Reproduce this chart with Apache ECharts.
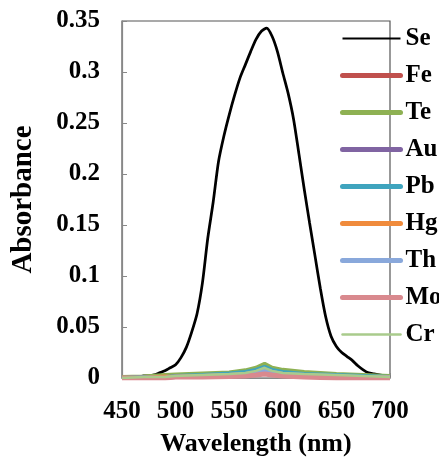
<!DOCTYPE html>
<html>
<head>
<meta charset="utf-8">
<script src="https://cdn.jsdelivr.net/npm/echarts@6/dist/echarts.min.js"></script>
<style>
  html, body { margin: 0; padding: 0; background: #fff; }
  #chart { width: 439px; height: 458px; }
</style>
</head>
<body>
<div id="chart"></div>
<script>
// Absorption spectra of the Se complex and the other ions tested
const seWavelength = [450, 455, 460, 465, 470, 475, 480, 485, 490, 495,
  500, 505, 510, 515, 520, 525, 530, 535, 540, 545,
  550, 555, 560, 565, 570, 575, 580, 585, 590, 595,
  600, 605, 610, 615, 620, 625, 630, 635, 640, 645,
  650, 655, 660, 665, 670, 675, 680, 685, 690, 695, 700];
const seAbs = [0.000, 0.000, 0.001, 0.001, 0.002, 0.002, 0.003, 0.005, 0.007, 0.010,
  0.013, 0.020, 0.030, 0.045, 0.063, 0.093, 0.137, 0.172, 0.212, 0.237,
  0.258, 0.277, 0.294, 0.307, 0.320, 0.332, 0.340, 0.343, 0.335, 0.320,
  0.299, 0.279, 0.254, 0.220, 0.185, 0.152, 0.120, 0.088, 0.060, 0.041,
  0.031, 0.025, 0.021, 0.017, 0.012, 0.008, 0.005, 0.004, 0.003, 0.002, 0.001];

const ionWavelength = [450, 470, 490, 500, 525, 550, 565, 575, 583, 590, 600, 620, 650, 675, 700];
const feAbs = [0.000, 0.000, 0.001, 0.002, 0.003, 0.004, 0.005, 0.006, 0.008, 0.006, 0.005, 0.003, 0.002, 0.001, 0.001];
const teAbs = [0.001, 0.0015, 0.003, 0.0035, 0.0045, 0.0055, 0.0075, 0.010, 0.014, 0.010, 0.008, 0.006, 0.004, 0.003, 0.002];
const auAbs = [0.000, 0.000, 0.001, 0.001, 0.002, 0.003, 0.004, 0.005, 0.007, 0.005, 0.004, 0.003, 0.001, 0.001, 0.000];
const pbAbs = [0.000, 0.001, 0.001, 0.002, 0.003, 0.0045, 0.006, 0.008, 0.011, 0.008, 0.006, 0.004, 0.003, 0.002, 0.001];
const hgAbs = [0.000, 0.000, 0.0015, 0.001, 0.002, 0.003, 0.004, 0.005, 0.006, 0.005, 0.004, 0.002, 0.001, 0.001, 0.000];
const thAbs = [0.000, 0.000, 0.000, 0.001, 0.002, 0.003, 0.004, 0.005, 0.008, 0.006, 0.004, 0.003, 0.002, 0.001, 0.001];
const moAbs = [0.000, 0.000, 0.000, 0.001, 0.001, 0.0015, 0.002, 0.003, 0.004, 0.003, 0.002, 0.001, 0.000, 0.000, 0.000];
const crAbs = [0.000, 0.001, 0.001, 0.002, 0.003, 0.004, 0.005, 0.007, 0.010, 0.007, 0.005, 0.004, 0.003, 0.002, 0.001];

const xTicks = { min: 450, max: 700, step: 50 };
const yTicks = { min: 0, max: 0.35, step: 0.05 };

const ions = [
  { name: 'Fe', values: feAbs, color: '#C0504D', width: 4 },
  { name: 'Te', values: teAbs, color: '#8EB153', width: 4 },
  { name: 'Au', values: auAbs, color: '#8064A2', width: 4 },
  { name: 'Pb', values: pbAbs, color: '#3FA4BE', width: 4 },
  { name: 'Hg', values: hgAbs, color: '#F08B3C', width: 4 },
  { name: 'Th', values: thAbs, color: '#89A8DB', width: 4 },
  { name: 'Mo', values: moAbs, color: '#D9898E', width: 5 },
  { name: 'Cr', values: crAbs, color: '#A9CB8C', width: 2.5 }
];

const serif = '"Liberation Serif", "Times New Roman", serif';

const zip = (xs, ys) => xs.map((x, i) => [x, ys[i]]);

const series = [{
  name: 'Se',
  type: 'line',
  data: zip(seWavelength, seAbs),
  symbol: 'none',
  smooth: 0.25,
  z: 3,
  lineStyle: { color: '#000', width: 2.75 },
  itemStyle: { color: '#000' }
}].concat(ions.map(ion => ({
  name: ion.name,
  type: 'line',
  data: zip(ionWavelength, ion.values),
  symbol: 'none',
  lineStyle: { color: ion.color, width: ion.width },
  itemStyle: { color: ion.color }
})));

const legendData = [{ name: 'Se', lineStyle: { width: 2 } }].concat(
  ions.map(ion => ({ name: ion.name, lineStyle: { width: ion.name === 'Cr' ? 2.5 : 5, cap: 'round' } }))
);

const chart = echarts.init(document.getElementById('chart'), null, { renderer: 'canvas' });
chart.setOption({
  backgroundColor: '#fff',
  animation: false,
  grid: {
    left: 122, top: 21, right: 49, bottom: 80,
    outerBoundsMode: 'none',
    containLabel: false,
    show: true, borderColor: '#555', borderWidth: 1.2, backgroundColor: 'transparent'
  },
  legend: {
    orient: 'vertical',
    left: 340,
    top: 26,
    padding: 0,
    itemWidth: 58,
    itemHeight: 14,
    itemGap: 12,
    itemStyle: { opacity: 0 },
    data: legendData,
    textStyle: { fontFamily: serif, fontWeight: 'bold', fontSize: 25, color: '#000', lineHeight: 25 }
  },
  xAxis: {
    type: 'value',
    min: xTicks.min, max: xTicks.max, interval: xTicks.step,
    name: 'Wavelength (nm)',
    nameLocation: 'middle',
    nameGap: 53,
    nameTextStyle: { fontFamily: serif, fontWeight: 'bold', fontSize: 26, color: '#000' },
    axisLine: { lineStyle: { color: '#888', width: 1.2 } },
    axisTick: { inside: true, length: 5, lineStyle: { color: '#888' } },
    axisLabel: { margin: 21, fontFamily: serif, fontWeight: 'bold', fontSize: 25, color: '#000' },
    splitLine: { show: false }
  },
  yAxis: {
    type: 'value',
    min: yTicks.min, max: yTicks.max, interval: yTicks.step,
    name: 'Absorbance',
    nameLocation: 'middle',
    nameGap: 84,
    nameTextStyle: { fontFamily: serif, fontWeight: 'bold', fontSize: 29, color: '#000' },
    axisLine: { show: true, lineStyle: { color: '#888', width: 1.2 } },
    axisTick: { show: true, inside: true, length: 5, lineStyle: { color: '#888' } },
    axisLabel: { margin: 22, fontFamily: serif, fontWeight: 'bold', fontSize: 25, color: '#000' },
    splitLine: { show: false }
  },
  series: series
});
</script>
</body>
</html>
